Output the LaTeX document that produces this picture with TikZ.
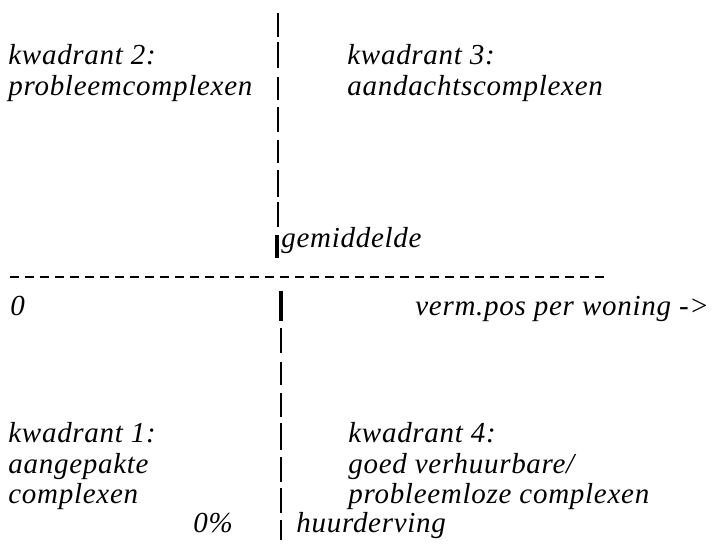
\documentclass[tikz,border=0pt]{standalone}
\usepackage{fontspec}
\setmainfont{Liberation Serif}
\newfontfamily\typed[LetterSpace=2.5]{Liberation Serif}
\begin{document}
\begin{tikzpicture}[x=0.5pt,y=-0.5pt,
  lbl/.style={anchor=base west,inner sep=0pt,font=\typed\fontsize{14.5}{17}\selectfont\itshape},
  tick/.style={line width=1.1pt},
  heavytick/.style={line width=1.6pt},
  axisdash/.style={line width=1.1pt,dash pattern=on 4.5pt off 3pt}]
\useasboundingbox (0,0) rectangle (720,543);
% vertical axis, typed as a column of bars
\foreach \a/\b in {13/37,42/68,77/100,107/132,140/163,170/197,202/227}
  \draw[tick] (278,\a) -- (278,\b);
\draw[heavytick] (277,235) -- (277,258);
\draw[heavytick] (281,291) -- (281,321);
\foreach \a/\b in {328/353,362/385,393/417,423/450,457/482,488/513,520/540}
  \draw[tick] (281,\a) -- (281,\b);
% horizontal axis at the average
\coordinate (hl) at (10,277);
\coordinate (hr) at (610,277);
\draw[axisdash] (hl) -- (hr);
% quadrant labels
\node[lbl] (k2) at (8,64) {kwadrant 2:};
\node[lbl] (k2b) at (8,95) {probleemcomplexen};
\node[lbl] (k3) at (347,64) {kwadrant 3:};
\node[lbl] (k3b) at (347,95) {aandachtscomplexen};
\node[lbl] (gem) at (281,247) {gemiddelde};
\node[lbl] (nul) at (10,315) {0};
\node[lbl] (xas) at (415,315) {verm.pos per woning ->};
\node[lbl] (k1) at (8,442) {kwadrant 1:};
\node[lbl] (k1b) at (8,473) {aangepakte};
\node[lbl] (k1c) at (8,503) {complexen};
\node[lbl] (pct) at (193,532) {0\%};
\node[lbl] (k4) at (348,442) {kwadrant 4:};
\node[lbl] (k4b) at (348,473) {goed verhuurbare/};
\node[lbl] (k4c) at (348,503) {probleemloze complexen};
\node[lbl] (huur) at (296,532) {huurderving};
\end{tikzpicture}
\end{document}
